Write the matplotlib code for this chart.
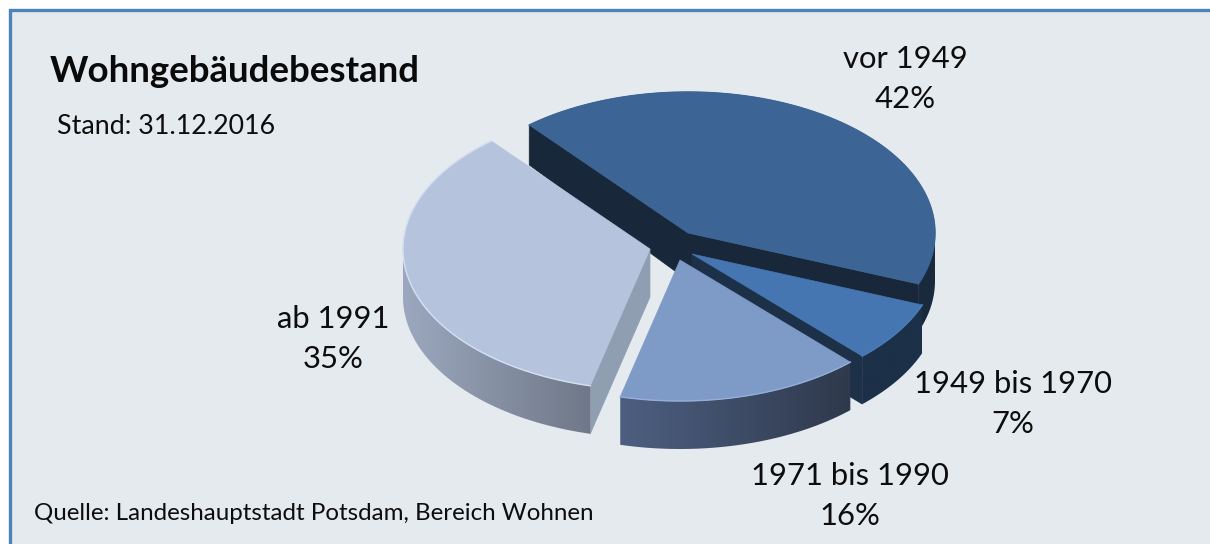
#Exploded 3D looking pie of the housing stock, drawn by hand with polygons
import numpy as np
import matplotlib
matplotlib.use('Agg')
import matplotlib.pyplot as plt
from matplotlib.patches import Polygon, Rectangle
from matplotlib.colors import LinearSegmentedColormap

categories = ['vor 1949', '1949 bis 1970', '1971 bis 1990', 'ab 1991']
shares = [42, 7, 16, 35]
title = 'Wohngebäudebestand'
subtitle = 'Stand: 31.12.2016'
source = 'Quelle: Landeshauptstadt Potsdam, Bereich Wohnen'

plt.rcParams['font.family'] = ['Lato', 'DejaVu Sans']

A = 247 #half width of the pie ellipse in pixels
B = 141 #half height of the pie ellipse
START = 130 #first slice starts here and runs clockwise
centers = [(688, 233), (692, 254), (680, 260), (650, 249)] #apex of each exploded slice
tops = ['#3c6494', '#4576b2', '#7e9ac6', '#b5c4dc']
edges = ['#3c6494', '#4a7cba', '#95aeda', '#d3e0f4']
wall_colors = [('#1a2a3d', '#1a2a3d'), ('#1c3048', '#1c3048'), ('#4d5f81', '#2f394c'), ('#9ca8bf', '#6f7888')]
face_colors = ['#182739', '#1c3048', '#303b4f', '#8f9eb1']
label_pos = [(905, 79), (1013, 404), (850, 496), (333, 339)]


def depth(y):
    #the back of the pie looks a bit thinner than the front
    return np.interp(y, [125, 240], [40, 48])


def point(c, deg):
    t = np.radians(deg)
    return c[0] + A * np.cos(t), c[1] - B * np.sin(t)


def arc(c, a1, a2):
    t = np.linspace(a1, a2, 80)
    x, y = point(c, t)
    return np.column_stack([x, y])


def drop(pts):
    return np.column_stack([pts[:, 0], pts[:, 1] + depth(pts[:, 1])])


def gradient_wall(ax, pts, c1, c2, z):
    #horizontal colour fade clipped to the wall shape
    cmap = LinearSegmentedColormap.from_list('wall', [c1, c2])
    x0, x1 = pts[:, 0].min(), pts[:, 0].max()
    y0, y1 = pts[:, 1].min(), pts[:, 1].max()
    im = ax.imshow(np.linspace(0, 1, 256).reshape(1, -1), cmap=cmap, aspect='auto', extent=(x0, x1, y1, y0), zorder=z)
    poly = Polygon(pts, closed=True, transform=ax.transData, fc='none', ec='none')
    ax.add_patch(poly)
    im.set_clip_path(poly)


def cut_face(ax, c, deg, color, z):
    #the flat side of a slice, from the apex out to the rim
    rim = np.array([c, point(c, deg)], dtype=float)
    pts = np.vstack([rim, drop(rim)[::-1]])
    ax.add_patch(Polygon(pts, closed=True, fc=color, ec=color, lw=0.5, zorder=z))


fig = plt.figure(figsize=(12.1, 5.44), dpi=100)
ax = fig.add_axes([0, 0, 1, 1])
ax.axis('off')
ax.add_patch(Rectangle((9.5, 9.5), 1400, 800, fc='#e5eaef', ec='#4f81bd', lw=2.4, zorder=0))

#slice angles come from the shares, clockwise from START
bounds = START - np.cumsum([0] + shares) * 3.6

for i in range(len(shares)):
    c = centers[i]
    a1, a2 = bounds[i], bounds[i + 1]
    z = 2 + i

    #flat cut sides first, only the ones turned to the viewer
    if i == 0:
        cut_face(ax, c, a1, face_colors[i], z)
        cut_face(ax, c, a2, face_colors[i], z)
    if i == 1:
        cut_face(ax, c, a2, face_colors[i], z)
    if i == 3:
        cut_face(ax, c, a1, face_colors[i], z)

    #outer wall, only the part in the lower half of the ellipse
    w1 = max(a2, -180)
    w2 = min(a1, 0)
    if w1 < w2:
        rim = arc(c, w1, w2)
        wall = np.vstack([rim, drop(rim)[::-1]])
        gradient_wall(ax, wall, wall_colors[i][0], wall_colors[i][1], z + 0.1)

    top = np.vstack([[c], arc(c, a1, a2)])
    ax.add_patch(Polygon(top, closed=True, fc=tops[i], ec=tops[i], lw=0.5, zorder=z + 0.2))
    rim = arc(c, a1, a2)
    ax.plot(rim[:, 0], rim[:, 1], color=edges[i], lw=1.0, zorder=z + 0.3)

for name, value, pos in zip(categories, shares, label_pos):
    ax.text(pos[0], pos[1], name + '\n' + str(value) + '%', ha='center', va='center', fontsize=22.3, color='#0d0d0d', linespacing=1.5, zorder=20)

ax.text(50, 72, title, ha='left', va='center', fontsize=26.4, fontweight='bold', color='#0a0a0a', zorder=20)
ax.text(57, 126, subtitle, ha='left', va='center', fontsize=19.3, color='#0d0d0d', zorder=20)
ax.text(34, 513, source, ha='left', va='center', fontsize=17.4, color='#0d0d0d', zorder=20)

ax.set_xlim(0, 1210)
ax.set_ylim(544, 0)
fig.savefig('out.png', dpi=100, facecolor='white')
